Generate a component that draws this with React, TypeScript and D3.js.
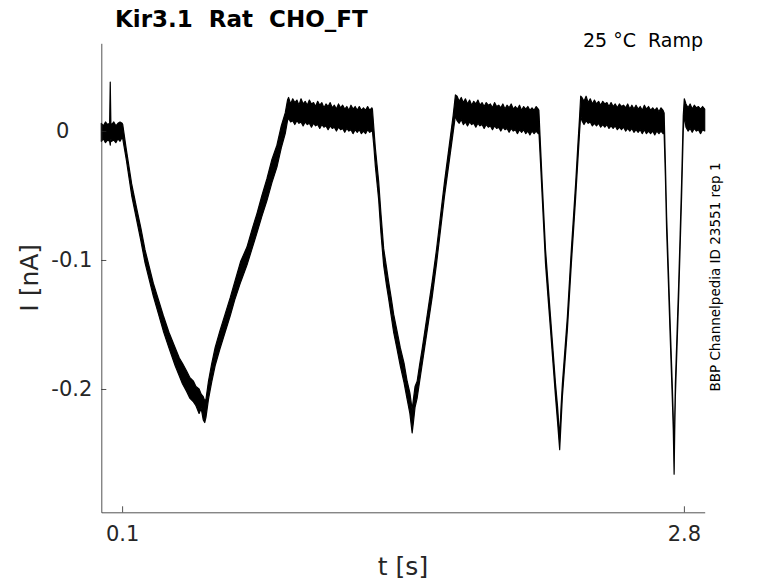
import { useEffect, useRef } from 'react';
import * as d3 from 'd3';

// trace envelope: [t (s), lower (nA), upper (nA)]
const hold0: [number, number, number][] = [
  [0.0, -0.008, 0.006], [0.01, -0.006, 0.004], [0.02, -0.009, 0.007], [0.03, -0.007, 0.005],
  [0.04, -0.008, 0.006], [0.043, -0.011, 0.038], [0.046, -0.006, 0.006], [0.05, -0.008, 0.005],
  [0.06, -0.007, 0.007], [0.07, -0.009, 0.004], [0.08, -0.006, 0.006], [0.09, -0.008, 0.007],
];

const ramp1: [number, number, number][] = [
  [0.1, -0.005, 0.006], [0.103, -0.006, 0.005], [0.12, -0.022, -0.014], [0.146, -0.05, -0.041],
  [0.17, -0.069, -0.06], [0.19, -0.085, -0.075], [0.21, -0.102, -0.092], [0.23, -0.115, -0.105],
  [0.25, -0.128, -0.118], [0.275, -0.142, -0.131], [0.298, -0.155, -0.143], [0.325, -0.168, -0.156],
  [0.355, -0.182, -0.168], [0.375, -0.19, -0.176], [0.39, -0.196, -0.18], [0.41, -0.202, -0.186],
  [0.425, -0.207, -0.191], [0.443, -0.21, -0.194], [0.455, -0.213, -0.198], [0.47, -0.219, -0.2],
  [0.48, -0.215, -0.204], [0.49, -0.224, -0.206], [0.497, -0.226, -0.209], [0.503, -0.222, -0.208],
  [0.515, -0.208, -0.194], [0.53, -0.195, -0.181], [0.547, -0.182, -0.168], [0.57, -0.169, -0.155],
  [0.595, -0.156, -0.142], [0.62, -0.143, -0.129], [0.643, -0.13, -0.116], [0.67, -0.117, -0.101],
  [0.7, -0.104, -0.09], [0.725, -0.091, -0.076], [0.748, -0.079, -0.064], [0.772, -0.066, -0.05],
  [0.796, -0.054, -0.037], [0.82, -0.04, -0.022], [0.844, -0.028, -0.011], [0.865, -0.013, 0.004],
  [0.884, -0.002, 0.014], [0.895, 0.008, 0.024],
];

const hold1: [number, number, number][] = [
  [0.9, 0.01, 0.026], [0.91, 0.007, 0.021], [0.92, 0.008, 0.025], [0.93, 0.005, 0.022],
  [0.94, 0.008, 0.024], [0.95, 0.006, 0.02], [0.96, 0.007, 0.025], [0.97, 0.004, 0.021],
  [0.98, 0.007, 0.023], [0.99, 0.005, 0.02], [1.0, 0.006, 0.024], [1.01, 0.003, 0.021],
  [1.02, 0.006, 0.022], [1.03, 0.004, 0.019], [1.04, 0.005, 0.023], [1.05, 0.002, 0.02],
  [1.06, 0.005, 0.022], [1.07, 0.003, 0.018], [1.08, 0.004, 0.021], [1.09, 0.001, 0.019],
  [1.1, 0.004, 0.022], [1.11, 0.002, 0.018], [1.12, 0.003, 0.02], [1.13, 0.0, 0.017],
  [1.14, 0.003, 0.021], [1.15, 0.001, 0.018], [1.16, 0.002, 0.02], [1.17, -0.001, 0.017],
  [1.18, 0.002, 0.019], [1.19, 0.0, 0.016], [1.2, 0.001, 0.02], [1.21, -0.002, 0.017],
  [1.22, 0.001, 0.019], [1.23, -0.001, 0.016], [1.24, 0.001, 0.019], [1.25, -0.002, 0.016],
  [1.26, 0.0, 0.018], [1.27, -0.002, 0.016], [1.28, 0.001, 0.019], [1.29, -0.001, 0.016],
];

const ramp2: [number, number, number][] = [
  [1.3, 0.0, 0.018], [1.303, 0.0, 0.017], [1.31, -0.012, 0.002], [1.317, -0.027, -0.013],
  [1.325, -0.04, -0.026], [1.333, -0.053, -0.039], [1.344, -0.079, -0.064], [1.357, -0.104, -0.091],
  [1.37, -0.119, -0.105], [1.381, -0.13, -0.117], [1.393, -0.143, -0.129], [1.405, -0.156, -0.142],
  [1.42, -0.168, -0.154], [1.437, -0.182, -0.168], [1.455, -0.195, -0.18], [1.47, -0.208, -0.194],
  [1.483, -0.219, -0.203], [1.494, -0.234, -0.216], [1.5, -0.226, -0.208], [1.508, -0.214, -0.198],
  [1.518, -0.207, -0.194], [1.53, -0.194, -0.181], [1.542, -0.181, -0.169], [1.554, -0.168, -0.156],
  [1.566, -0.155, -0.143], [1.578, -0.142, -0.13], [1.59, -0.129, -0.117], [1.611, -0.103, -0.092],
  [1.63, -0.077, -0.066], [1.649, -0.051, -0.04], [1.67, -0.026, -0.014], [1.691, -0.001, 0.012],
  [1.702, 0.012, 0.028],
];

const hold2: [number, number, number][] = [
  [1.71, 0.008, 0.027], [1.72, 0.006, 0.023], [1.73, 0.009, 0.026], [1.74, 0.005, 0.022],
  [1.75, 0.007, 0.025], [1.76, 0.004, 0.021], [1.77, 0.007, 0.024], [1.78, 0.005, 0.02],
  [1.79, 0.006, 0.023], [1.8, 0.003, 0.021], [1.81, 0.006, 0.024], [1.82, 0.004, 0.02],
  [1.83, 0.005, 0.022], [1.84, 0.002, 0.019], [1.85, 0.005, 0.022], [1.86, 0.003, 0.02],
  [1.87, 0.004, 0.021], [1.88, 0.001, 0.018], [1.89, 0.004, 0.022], [1.9, 0.002, 0.019],
  [1.91, 0.003, 0.02], [1.92, 0.0, 0.018], [1.93, 0.003, 0.021], [1.94, 0.001, 0.017],
  [1.95, 0.002, 0.02], [1.96, -0.001, 0.018], [1.97, 0.002, 0.021], [1.98, 0.0, 0.017],
  [1.99, 0.001, 0.019], [2.0, -0.002, 0.017], [2.01, 0.001, 0.02], [2.02, -0.001, 0.016],
  [2.03, 0.001, 0.019], [2.04, -0.002, 0.017], [2.05, 0.0, 0.019], [2.06, -0.003, 0.016],
  [2.07, 0.0, 0.018], [2.08, -0.002, 0.016], [2.09, 0.0, 0.019], [2.1, -0.002, 0.017],
];

const ramp3: [number, number, number][] = [
  [2.103, 0.0, 0.016], [2.111, -0.025, -0.012], [2.119, -0.051, -0.04], [2.127, -0.077, -0.066],
  [2.135, -0.103, -0.092], [2.147, -0.129, -0.118], [2.159, -0.154, -0.144], [2.171, -0.18, -0.17],
  [2.183, -0.206, -0.196], [2.193, -0.226, -0.214], [2.203, -0.247, -0.238], [2.209, -0.228, -0.216],
  [2.216, -0.206, -0.196], [2.228, -0.18, -0.17], [2.24, -0.154, -0.144], [2.259, -0.103, -0.092],
  [2.27, -0.076, -0.065], [2.28, -0.051, -0.04], [2.29, -0.024, -0.012], [2.299, 0.0, 0.012],
  [2.304, 0.012, 0.027],
];

const hold3: [number, number, number][] = [
  [2.31, 0.008, 0.026], [2.32, 0.005, 0.023], [2.33, 0.008, 0.027], [2.34, 0.006, 0.022],
  [2.35, 0.007, 0.025], [2.36, 0.004, 0.021], [2.37, 0.006, 0.024], [2.38, 0.004, 0.021],
  [2.39, 0.006, 0.023], [2.4, 0.003, 0.02], [2.41, 0.005, 0.023], [2.42, 0.003, 0.021],
  [2.43, 0.005, 0.022], [2.44, 0.002, 0.019], [2.45, 0.004, 0.022], [2.46, 0.002, 0.019],
  [2.47, 0.004, 0.021], [2.48, 0.001, 0.018], [2.49, 0.003, 0.021], [2.5, 0.001, 0.019],
  [2.51, 0.003, 0.02], [2.52, 0.0, 0.018], [2.53, 0.002, 0.021], [2.54, 0.0, 0.017],
  [2.55, 0.002, 0.02], [2.56, -0.001, 0.017], [2.57, 0.001, 0.02], [2.58, -0.001, 0.017],
  [2.59, 0.001, 0.019], [2.6, -0.002, 0.016], [2.61, 0.001, 0.02], [2.62, -0.002, 0.017],
  [2.63, 0.0, 0.019], [2.64, -0.002, 0.016], [2.65, 0.0, 0.018], [2.66, -0.003, 0.016],
  [2.67, 0.0, 0.018], [2.68, -0.002, 0.015], [2.69, 0.0, 0.018], [2.7, -0.002, 0.016],
];

const ramp4: [number, number, number][] = [
  [2.705, -0.002, 0.014], [2.711, -0.035, -0.024], [2.717, -0.077, -0.066], [2.725, -0.115, -0.105],
  [2.733, -0.154, -0.144], [2.744, -0.206, -0.196], [2.749, -0.232, -0.222], [2.753, -0.266, -0.258],
  [2.756, -0.232, -0.222], [2.759, -0.206, -0.196], [2.767, -0.167, -0.157], [2.775, -0.128, -0.118],
  [2.782, -0.09, -0.08], [2.789, -0.051, -0.04], [2.797, 0.0, 0.012], [2.802, 0.012, 0.025],
];

const hold4: [number, number, number][] = [
  [2.81, 0.003, 0.021], [2.82, 0.0, 0.018], [2.83, 0.002, 0.021], [2.84, -0.001, 0.017],
  [2.85, 0.002, 0.02], [2.86, 0.0, 0.018], [2.87, 0.001, 0.019], [2.88, -0.002, 0.017],
  [2.89, 0.001, 0.019], [2.9, 0.0, 0.017],
];

const xTicks = [0.1, 2.8];
const xTickLabels = ['0.1', '2.8'];
const yTicks = [-0.2, -0.1, 0];
const yTickLabels = ['-0.2', '-0.1', '0'];

const title = 'Kir3.1  Rat  CHO_FT';
const subtitle = '25 °C  Ramp';
const sideNote = 'BBP Channelpedia ID 23551 rep 1';

const W = 778;
const H = 583;
const FONT = '"DejaVu Sans", sans-serif';
const AXIS = '#262626';

export default function App() {
  const svgRef = useRef<SVGSVGElement>(null);

  useEffect(() => {
    if (!svgRef.current) return;
    document.body.style.margin = '0';

    const svg = d3.select(svgRef.current);
    svg.selectAll('*').remove();

    const x = d3.scaleLinear().domain([0, 2.9]).range([101.3, 704.7]);
    const y = d3.scaleLinear().domain([-0.2956, 0.068]).range([512.3, 43.3]);

    const trace = [...hold0, ...ramp1, ...hold1, ...ramp2, ...hold2, ...ramp3, ...hold3, ...ramp4, ...hold4];

    const area = d3.area<[number, number, number]>()
      .x((d) => x(d[0]))
      .y0((d) => y(d[1]))
      .y1((d) => y(d[2]));

    svg.append('path')
      .attr('d', area(trace) as string)
      .attr('fill', '#000')
      .attr('stroke', '#000')
      .attr('stroke-width', 1.2)
      .attr('stroke-linejoin', 'round');

    // axes, ticks pointing inward
    const xAxis = d3.axisBottom(x)
      .tickValues(xTicks)
      .tickFormat((_, i) => xTickLabels[i])
      .tickSizeInner(-6)
      .tickSizeOuter(0)
      .tickPadding(14);

    const gx = svg.append('g')
      .attr('transform', `translate(0,${y.range()[0]})`)
      .call(xAxis);

    const yAxis = d3.axisLeft(y)
      .tickValues(yTicks)
      .tickFormat((_, i) => yTickLabels[i])
      .tickSizeInner(-5)
      .tickSizeOuter(0)
      .tickPadding(9);

    const gy = svg.append('g')
      .attr('transform', `translate(${x.range()[0]},0)`)
      .call(yAxis);

    [gx, gy].forEach((g) => {
      g.select('.domain').attr('stroke', AXIS).attr('stroke-width', 0.8);
      g.selectAll('.tick line').attr('stroke', AXIS).attr('stroke-width', 0.8);
      g.selectAll('.tick text')
        .attr('fill', AXIS)
        .attr('font-family', FONT)
        .attr('font-size', 21);
    });

    gy.selectAll<SVGTextElement, number>('.tick text')
      .filter((d) => d === 0)
      .attr('dx', -23);

    // axis titles
    svg.append('text')
      .attr('x', (x.range()[0] + x.range()[1]) / 2)
      .attr('y', 575)
      .attr('text-anchor', 'middle')
      .attr('font-family', FONT)
      .attr('font-size', 25)
      .attr('fill', AXIS)
      .text('t [s]');

    svg.append('text')
      .attr('transform', `translate(38,${(y.range()[0] + y.range()[1]) / 2}) rotate(-90)`)
      .attr('text-anchor', 'middle')
      .attr('font-family', FONT)
      .attr('font-size', 25)
      .attr('fill', AXIS)
      .text('I [nA]');

    svg.append('text')
      .attr('x', 115)
      .attr('y', 27)
      .attr('font-family', FONT)
      .attr('font-size', 23)
      .attr('font-weight', 'bold')
      .attr('fill', '#000')
      .style('white-space', 'pre')
      .text(title);

    svg.append('text')
      .attr('x', 703)
      .attr('y', 47)
      .attr('text-anchor', 'end')
      .attr('font-family', FONT)
      .attr('font-size', 19)
      .attr('fill', '#000')
      .style('white-space', 'pre')
      .text(subtitle);

    svg.append('text')
      .attr('transform', `translate(720,277) rotate(-90)`)
      .attr('text-anchor', 'middle')
      .attr('font-family', FONT)
      .attr('font-size', 13.5)
      .attr('fill', '#000')
      .text(sideNote);
  }, []);

  return <svg ref={svgRef} width={W} height={H} style={{ display: 'block', background: '#fff' }} />;
}
